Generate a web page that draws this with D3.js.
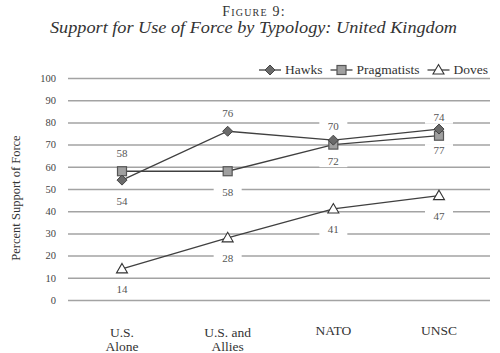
<!DOCTYPE html>
<html lang="en">
<head>
<meta charset="UTF-8" />
<title>Figure 9</title>
<script src="https://d3js.org/d3.v7.min.js"></script>
<style>
    body { margin: 0; background: #fff; }
    svg, svg text { font-family: "Liberation Serif", "DejaVu Serif", serif !important; }
    text { fill: #333; }
    .grid line { stroke: #a3a3a3; stroke-width: 1.5; }
    .grid path { display: none; }
    .grid text { font-size: 10.5px; fill: #444; }
</style>
</head>
<body>
<script>
    // data
    var categories = ["U.S.|Alone", "U.S. and|Allies", "NATO", "UNSC"];
    var seriesNames = ["Hawks", "Pragmatists", "Doves"];
    var hawks = [54, 76, 72, 77];
    var pragmatists = [58, 58, 70, 74];
    var doves = [14, 28, 41, 47];
    var yTicks = [0, 10, 20, 30, 40, 50, 60, 70, 80, 90, 100];
    // which side of the point each value label sits on
    var hawksLabelSide = ["below", "above", "below", "below"];
    var pragLabelSide = ["above", "below", "above", "above"];
    var dovesLabelSide = ["below", "below", "below", "below"];

    var w = 500, h = 353;
    var margin = {left: 68, right: 10, top: 78, bottom: 53};

    var svg = d3.select("body").append("svg")
        .attr("width", w).attr("height", h)
        .attr("font-family", "Liberation Serif");

    // titles
    svg.append("text")
        .attr("x", 254).attr("y", 16)
        .attr("text-anchor", "middle")
        .style("font-size", "14px")
        .style("font-variant", "small-caps")
        .style("letter-spacing", "1.2px")
        .text("Figure 9:");
    svg.append("text")
        .attr("x", 50).attr("y", 33)
        .attr("textLength", 407)
        .attr("lengthAdjust", "spacingAndGlyphs")
        .style("font-size", "16px")
        .style("font-style", "italic")
        .text("Support for Use of Force by Typology: United Kingdom");

    var x = d3.scalePoint()
        .domain(categories)
        .range([122, 439]);
    var y = d3.scaleLinear()
        .domain([0, 100])
        .range([300, 78]);

    // gridlines with tick labels
    var grid = svg.append("g")
        .attr("class", "grid")
        .attr("transform", "translate(" + margin.left + ",0)")
        .call(d3.axisLeft(y).tickValues(yTicks).tickSize(-422).tickPadding(10));
    grid.selectAll("text").attr("x", -12);

    // y title
    svg.append("text")
        .attr("transform", "translate(20,198) rotate(-90)")
        .attr("text-anchor", "middle")
        .style("font-size", "12.5px")
        .text("Percent Support of Force");

    // x labels
    var xl = svg.selectAll(".xlab")
        .data(categories).enter()
        .append("text")
        .attr("class", "xlab")
        .attr("text-anchor", "middle")
        .attr("x", function(d) { return x(d); })
        .attr("y", function(d) { return d.indexOf("|") > 0 ? 337 : 335; })
        .style("font-size", "13.5px");
    xl.each(function(d) {
        var parts = d.split("|");
        var t = d3.select(this);
        parts.forEach(function(p, i) {
            t.append("tspan")
                .attr("x", x(d))
                .attr("dy", i === 0 ? 0 : 14)
                .text(p);
        });
    });

    var series = [
        {name: seriesNames[0], values: hawks, side: hawksLabelSide, shape: "diamond"},
        {name: seriesNames[1], values: pragmatists, side: pragLabelSide, shape: "square"},
        {name: seriesNames[2], values: doves, side: dovesLabelSide, shape: "triangle"}
    ];

    function marker(g, shape) {
        if (shape === "diamond") {
            g.append("path").attr("d", "M0,-5L5,0L0,5L-5,0Z")
                .attr("fill", "#6a6a6a").attr("stroke", "#444").attr("stroke-width", 1);
        } else if (shape === "square") {
            g.append("rect").attr("x", -4.5).attr("y", -4.5).attr("width", 9).attr("height", 9)
                .attr("fill", "#a0a0a0").attr("stroke", "#555").attr("stroke-width", 1.2);
        } else {
            g.append("path").attr("d", "M0,-5.5L5.5,4L-5.5,4Z")
                .attr("fill", "#fff").attr("stroke", "#333").attr("stroke-width", 1.1);
        }
    }

    // value labels (with white backing that breaks the gridlines)
    series.forEach(function(s) {
        s.values.forEach(function(v, i) {
            var cy = y(v) + (s.side[i] === "above" ? -18 : 21);
            svg.append("rect")
                .attr("x", x(categories[i]) - 14).attr("y", cy - 6)
                .attr("width", 28).attr("height", 12)
                .attr("fill", "#fff");
            svg.append("text")
                .attr("x", x(categories[i])).attr("y", cy + 3.5)
                .attr("text-anchor", "middle")
                .style("font-size", "11px")
                .style("fill", "#555")
                .text(v);
        });
    });

    var line = d3.line()
        .x(function(d, i) { return x(categories[i]); })
        .y(function(d) { return y(d); });

    series.forEach(function(s) {
        svg.append("path")
            .datum(s.values)
            .attr("d", line)
            .attr("fill", "none")
            .attr("stroke", "#404040")
            .attr("stroke-width", 1.3);
    });
    series.slice().reverse().forEach(function(s) {
        s.values.forEach(function(v, i) {
            var g = svg.append("g")
                .attr("transform", "translate(" + x(categories[i]) + "," + y(v) + ")");
            marker(g, s.shape);
        });
    });

    // legend, laid out from the right edge
    var legendRight = 488;
    var items = [];
    series.forEach(function(s) {
        var g = svg.append("g");
        g.append("line").attr("x1", 0).attr("x2", 22)
            .attr("stroke", "#404040").attr("stroke-width", 1.3);
        marker(g.append("g").attr("transform", "translate(11,0)"), s.shape);
        var t = g.append("text").attr("x", 26).attr("y", 4)
            .style("font-size", "13.5px")
            .text(s.name);
        items.push({g: g, width: 26 + t.node().getComputedTextLength()});
    });
    var cursor = legendRight;
    items.slice().reverse().forEach(function(it) {
        cursor -= it.width;
        it.g.attr("transform", "translate(" + cursor + ",70)");
        cursor -= 8;
    });
</script>
</body>
</html>
